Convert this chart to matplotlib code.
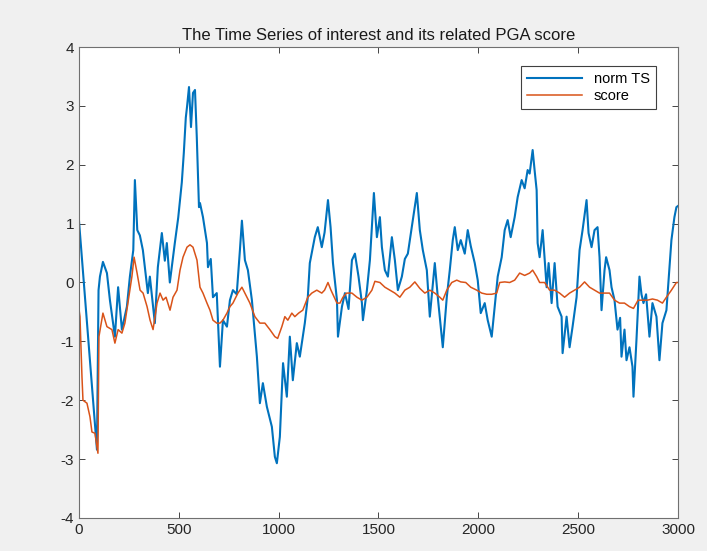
import matplotlib.pyplot as plt

plt.rcParams['font.family'] = ['Liberation Sans', 'DejaVu Sans']
plt.rcParams['axes.unicode_minus'] = False

# values
ts_x = [0, 90, 98, 105, 120, 140, 155, 180, 196, 215, 240, 255, 272, 280, 292,
        305, 320, 330, 345, 355, 380, 395, 415, 430, 440, 455, 480, 497, 515,
        525, 535, 541, 551, 561, 571, 581, 590, 601, 606, 621, 641, 646, 660,
        671, 690, 706, 721, 741, 756, 771, 790, 806, 816, 831, 846, 866, 891,
        906, 921, 941, 966, 981, 991, 1006, 1022, 1041, 1056, 1071, 1091, 1106,
        1131, 1146, 1156, 1181, 1196, 1216, 1230, 1247, 1260, 1272, 1292, 1297,
        1317, 1332, 1350, 1367, 1382, 1400, 1417, 1422, 1442, 1457, 1477, 1492,
        1507, 1517, 1532, 1547, 1567, 1582, 1597, 1617, 1632, 1647, 1672, 1692,
        1707, 1722, 1742, 1757, 1782, 1797, 1817, 1822, 1842, 1857, 1872, 1882,
        1897, 1912, 1932, 1947, 1962, 1982, 1997, 2012, 2032, 2047, 2067, 2082,
        2097, 2117, 2132, 2147, 2162, 2182, 2197, 2217, 2232, 2247, 2257, 2272,
        2282, 2292, 2297, 2307, 2322, 2342, 2352, 2367, 2382, 2397, 2417, 2422,
        2442, 2457, 2472, 2492, 2507, 2522, 2542, 2552, 2567, 2582, 2597, 2607,
        2617, 2632, 2640, 2657, 2667, 2682, 2697, 2710, 2717, 2732, 2742, 2757,
        2772, 2777, 2792, 2807, 2817, 2827, 2840, 2857, 2872, 2892, 2907, 2922,
        2942, 2952, 2967, 2982, 2992, 3000]
ts_y = [1.05, -2.84, -0.13, 0.1, 0.35, 0.16, -0.3, -0.92, -0.08, -0.8, -0.41,
        0.1, 0.55, 1.74, 0.89, 0.8, 0.55, 0.26, -0.18, 0.1, -0.69, 0.26, 0.84,
        0.37, 0.67, 0.0, 0.67, 1.1, 1.7, 2.2, 2.8, 2.98, 3.32, 2.64, 3.22, 3.27,
        2.47, 1.28, 1.35, 1.11, 0.67, 0.26, 0.4, -0.25, -0.18, -1.43, -0.64,
        -0.75, -0.3, -0.13, -0.2, 0.55, 1.05, 0.38, 0.21, -0.3, -1.26, -2.05,
        -1.71, -2.11, -2.45, -2.96, -3.07, -2.62, -1.37, -1.94, -0.92, -1.66,
        -1.03, -1.26, -0.69, -0.25, 0.33, 0.77, 0.94, 0.6, 0.85, 1.4, 0.94,
        0.33, -0.3, -0.92, -0.41, -0.18, -0.45, 0.38, 0.49, 0.1, -0.35, -0.64,
        -0.13, 0.38, 1.52, 0.77, 1.11, 0.6, 0.21, 0.1, 0.77, 0.38, -0.13, 0.1,
        0.4, 0.49, 1.06, 1.52, 0.89, 0.55, 0.21, -0.58, 0.33, -0.25, -0.92,
        -1.1, -0.25, 0.21, 0.72, 0.94, 0.55, 0.72, 0.49, 0.89, 0.62, 0.33,
        0.04, -0.52, -0.35, -0.64, -0.92, -0.41, 0.1, 0.43, 0.89, 1.06, 0.77,
        1.11, 1.45, 1.74, 1.6, 1.91, 1.85, 2.25, 1.9, 1.57, 0.67, 0.43, 0.89,
        -0.08, 0.33, -0.35, 0.33, -0.41, -0.58, -1.2, -0.58, -1.1, -0.75, -0.25,
        0.55, 0.89, 1.4, 0.84, 0.6, 0.89, 0.94, 0.43, -0.47, 0.21, 0.43, 0.21,
        -0.08, -0.3, -0.8, -0.6, -1.26, -0.8, -1.32, -1.1, -1.43, -1.94, -0.97,
        0.1, -0.2, -0.35, -0.2, -0.92, -0.35, -0.58, -1.32, -0.69, -0.47, 0.0,
        0.72, 1.11, 1.28, 1.3]

score_x = [0, 5, 15, 20, 40, 55, 65, 80, 95, 100, 120, 140, 165, 180, 196, 215,
           230, 245, 265, 276, 291, 306, 321, 341, 356, 371, 391, 406, 421, 436,
           456, 471, 491, 506, 521, 541, 556, 571, 591, 606, 621, 641, 656, 671,
           690, 706, 721, 741, 756, 771, 796, 816, 831, 856, 881, 906, 931, 956,
           981, 995, 1016, 1031, 1046, 1066, 1081, 1100, 1121, 1146, 1166, 1191,
           1216, 1230, 1247, 1262, 1292, 1307, 1322, 1340, 1367, 1392, 1417,
           1442, 1467, 1482, 1507, 1532, 1557, 1582, 1607, 1632, 1657, 1682,
           1707, 1732, 1757, 1782, 1807, 1822, 1842, 1867, 1892, 1912, 1937,
           1962, 1992, 2017, 2042, 2067, 2092, 2107, 2132, 2157, 2182, 2207,
           2232, 2257, 2272, 2292, 2307, 2332, 2357, 2382, 2407, 2432, 2457,
           2482, 2507, 2532, 2557, 2582, 2607, 2632, 2657, 2682, 2707, 2732,
           2757, 2777, 2800, 2822, 2847, 2872, 2897, 2922, 2942, 2967, 2992,
           3000]
score_y = [-0.45, -0.58, -1.6, -2.0, -2.05, -2.28, -2.54, -2.56, -2.9, -0.92,
           -0.52, -0.75, -0.8, -1.03, -0.8, -0.86, -0.69, -0.35, 0.1, 0.43,
           0.16, -0.13, -0.18, -0.41, -0.64, -0.8, -0.35, -0.18, -0.3, -0.25,
           -0.47, -0.25, -0.13, 0.21, 0.43, 0.6, 0.64, 0.6, 0.38, -0.08, -0.18,
           -0.35, -0.47, -0.64, -0.69, -0.69, -0.64, -0.52, -0.41, -0.35, -0.18,
           -0.08, -0.18, -0.35, -0.58, -0.69, -0.69, -0.8, -0.92, -0.95, -0.75,
           -0.58, -0.64, -0.52, -0.58, -0.52, -0.47, -0.25, -0.18, -0.13, -0.18,
           -0.13, 0.0, -0.13, -0.35, -0.35, -0.25, -0.18, -0.18, -0.25, -0.3,
           -0.25, -0.13, 0.02, 0.0, -0.08, -0.13, -0.18, -0.25, -0.13, -0.08,
           0.01, -0.1, -0.18, -0.13, -0.18, -0.25, -0.3, -0.13, 0.0, 0.04, 0.01,
           0.0, -0.08, -0.13, -0.18, -0.2, -0.2, -0.18, 0.0, 0.01, 0.0, 0.04,
           0.16, 0.12, 0.16, 0.21, 0.1, 0.0, 0.0, -0.13, -0.13, -0.18, -0.25,
           -0.18, -0.13, -0.08, 0.01, -0.08, -0.13, -0.18, -0.18, -0.18, -0.3,
           -0.35, -0.35, -0.41, -0.44, -0.3, -0.3, -0.3, -0.28, -0.3, -0.35,
           -0.25, -0.13, 0.0, 0.0]

fig = plt.figure(figsize=(7.07, 5.51), dpi=100, facecolor='#f0f0f0')
ax = fig.add_axes([0.1117, 0.0599, 0.8473, 0.8548])
ax.set_facecolor('white')

ax.plot(ts_x, ts_y, color='#0072BD', lw=1.5, label='norm TS')
ax.plot(score_x, score_y, color='#D95319', lw=1.1, label='score')

ax.set_xlim(0, 3000)
ax.set_ylim(-4, 4)
ax.set_xticks(range(0, 3001, 500))
ax.set_yticks(range(-4, 5))
ax.tick_params(direction='in', top=True, right=True, labelsize=11,
               colors='#262626', length=4, width=0.6)
for s in ax.spines.values():
    s.set_color('#707070')
    s.set_linewidth(0.8)

ax.set_title('The Time Series of interest and its related PGA score',
             fontsize=12, color='#1a1a1a', pad=5)
leg = ax.legend(loc='upper right', bbox_to_anchor=(0.975, 0.975), fontsize=10.5,
                handlelength=3.8, fancybox=False, framealpha=1,
                edgecolor='#404040', borderpad=0.4, labelspacing=0.2)
leg.get_frame().set_linewidth(0.8)

fig.savefig('out.png', dpi=100, facecolor=fig.get_facecolor())
